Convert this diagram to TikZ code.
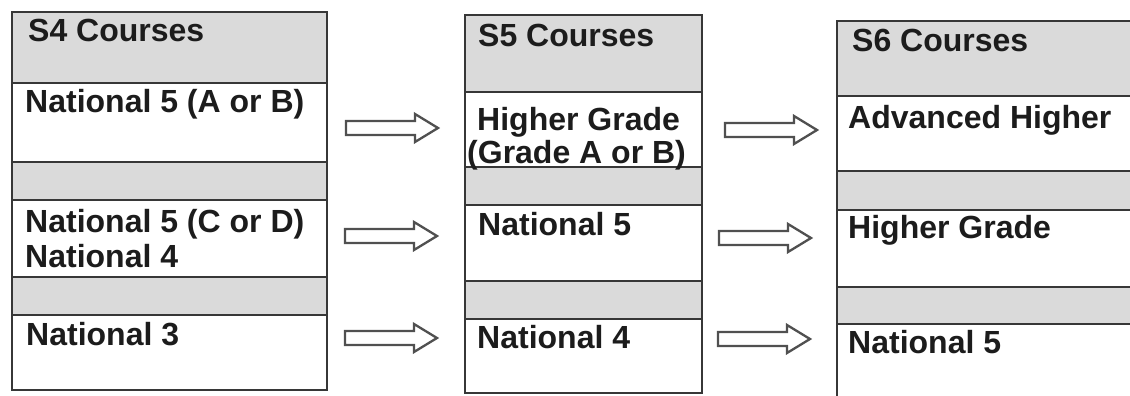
\documentclass[tikz,border=0pt]{standalone}
\usepackage{fontspec}
\setmainfont{Liberation Sans}
\definecolor{bandgray}{RGB}{218,218,218}
\definecolor{linegray}{RGB}{55,55,55}
\definecolor{arrowgray}{RGB}{80,80,80}
\definecolor{inkc}{RGB}{28,28,28}
\tikzset{
  cellbox/.style={draw=linegray, line width=2pt, fill=white, anchor=north west, inner sep=0pt, outer sep=0pt},
  bandbox/.style={cellbox, fill=bandgray},
  label/.style={anchor=base west, inner sep=0pt, text=inkc, font=\fontsize{32}{35}\selectfont\bfseries},
  blockarrow/.style={draw=arrowgray, line width=2.3pt, fill=white, line join=miter}
}
\newcommand{\blockarr}[1]{%
  \draw[blockarrow] (#1) ++(0,-7) -- ++(69,0) -- ++(0,-7) -- ++(23,14) -- ++(-23,14) -- ++(0,-7) -- ++(-69,0) -- cycle;}
\begin{document}
\begin{tikzpicture}[x=1pt,y=-1pt]
\useasboundingbox (0,0) rectangle (1130,396);
\clip (0,0) rectangle (1130,396);
\fill[white] (0,0) rectangle (1130,396);

% column S4
\node[bandbox, minimum width=315pt, minimum height=71pt] (s4h) at (12,12) {};
\node[cellbox, minimum width=315pt, minimum height=79pt] (s4a) at (12,83) {};
\node[bandbox, minimum width=315pt, minimum height=38pt] (s4g1) at (12,162) {};
\node[cellbox, minimum width=315pt, minimum height=77pt] (s4b) at (12,200) {};
\node[bandbox, minimum width=315pt, minimum height=38pt] (s4g2) at (12,277) {};
\node[cellbox, minimum width=315pt, minimum height=75pt] (s4c) at (12,315) {};

% column S5
\node[bandbox, minimum width=237pt, minimum height=77pt] (s5h) at (465,15) {};
\node[cellbox, minimum width=237pt, minimum height=75pt] (s5a) at (465,92) {};
\node[bandbox, minimum width=237pt, minimum height=38pt] (s5g1) at (465,167) {};
\node[cellbox, minimum width=237pt, minimum height=76pt] (s5b) at (465,205) {};
\node[bandbox, minimum width=237pt, minimum height=38pt] (s5g2) at (465,281) {};
\node[cellbox, minimum width=237pt, minimum height=74pt] (s5c) at (465,319) {};

% column S6 (runs off the right and bottom edges)
\node[bandbox, minimum width=310pt, minimum height=75pt] (s6h) at (837,21) {};
\node[cellbox, minimum width=310pt, minimum height=75pt] (s6a) at (837,96) {};
\node[bandbox, minimum width=310pt, minimum height=39pt] (s6g1) at (837,171) {};
\node[cellbox, minimum width=310pt, minimum height=77pt] (s6b) at (837,210) {};
\node[bandbox, minimum width=310pt, minimum height=37pt] (s6g2) at (837,287) {};
\node[cellbox, minimum width=310pt, minimum height=90pt] (s6c) at (837,324) {};

% texts
\node[label] (t4h) at (28,42) {S4 Courses};
\node[label] (t4a) at (25,113) {National 5 (A or B)};
\node[label] (t4b1) at (25,232) {National 5 (C or D)};
\node[label] (t4b2) at (25,267) {National 4};
\node[label] (t4c) at (26,345) {National 3};

\node[label] (t5h) at (478,47) {S5 Courses};
\node[label] (t5a1) at (477,130) {Higher Grade};
\node[label] (t5a2) at (467,163) {(Grade A or B)};
\node[label] (t5b) at (478,235) {National 5};
\node[label] (t5c) at (477,348) {National 4};

\node[label] (t6h) at (852,52) {S6 Courses};
\node[label] (t6a) at (848,128) {Advanced Higher};
\node[label] (t6b) at (848,238) {Higher Grade};
\node[label] (t6c) at (848,353) {National 5};

% block arrows
\coordinate (a1) at (346,128);
\coordinate (a2) at (725,130);
\coordinate (a3) at (345,236);
\coordinate (a4) at (719,238);
\coordinate (a5) at (345,338);
\coordinate (a6) at (718,339);
\blockarr{a1}
\blockarr{a2}
\blockarr{a3}
\blockarr{a4}
\blockarr{a5}
\blockarr{a6}
\end{tikzpicture}
\end{document}
